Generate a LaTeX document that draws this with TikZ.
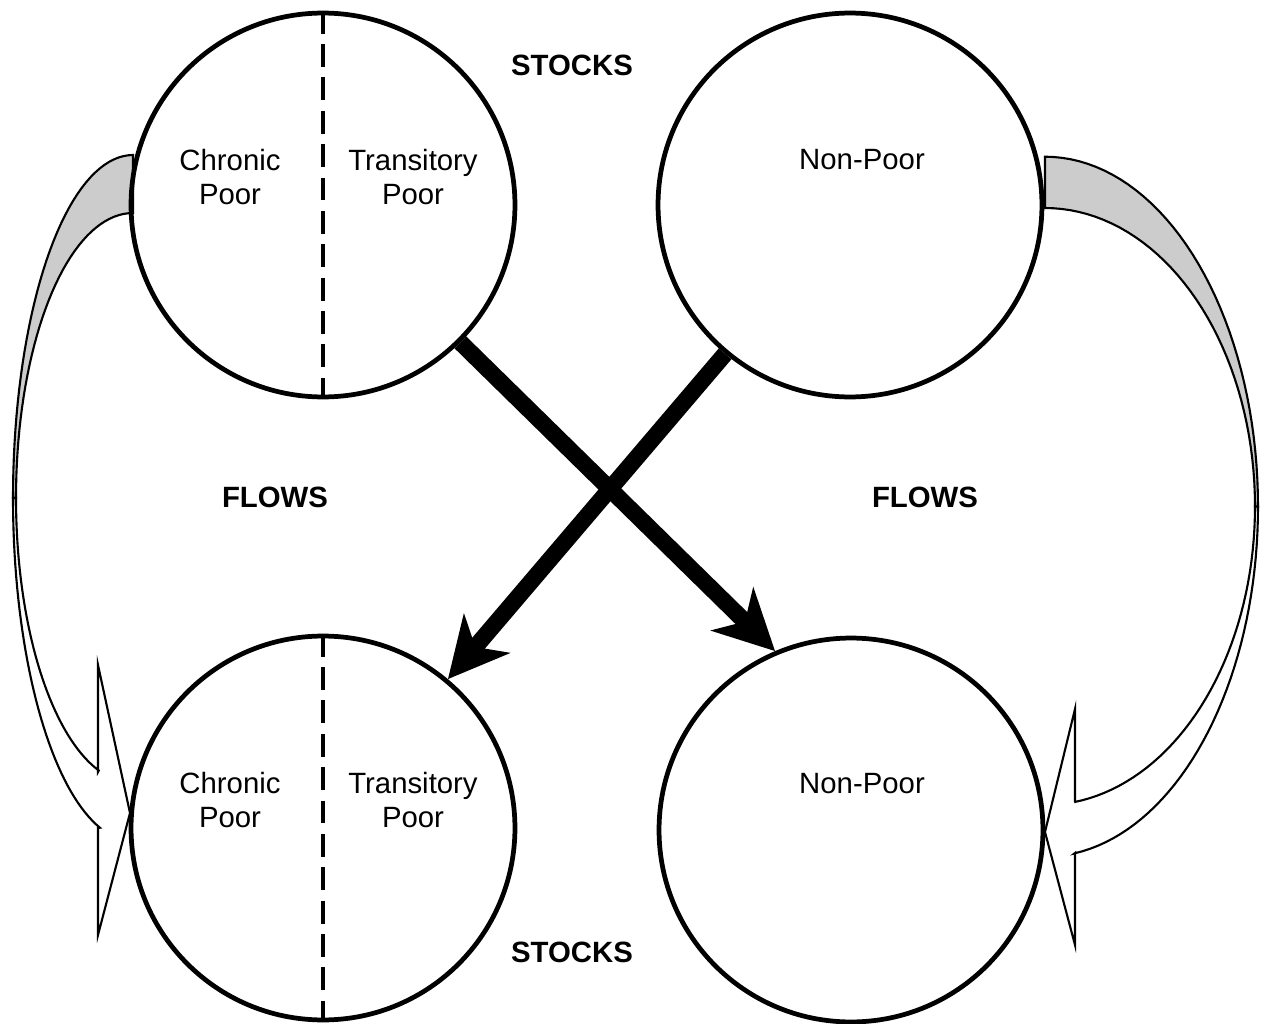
\documentclass[tikz,border=0pt]{standalone}
\usepackage{fontspec}
\setmainfont{Liberation Sans}
\usetikzlibrary{arrows.meta}

\begin{document}
\begin{tikzpicture}[x=0.02cm,y=-0.02cm,main/.style={draw,circle,line width=2.7pt,minimum size=7.68cm,inner sep=0pt},txt/.style={align=center,font=\fontsize{16.7}{19.5}\selectfont},hdr/.style={font=\fontsize{16.7}{19.5}\selectfont\bfseries},band/.style={line width=1.2pt,line join=miter}]
\useasboundingbox (0,0) rectangle (1265,1024);
% curved flows, left side
\draw[band,fill=black!20] plot[domain=90:180,samples=40,variable=\t] ({133+120*cos(\t)},{498-343*sin(\t)}) -- plot[domain=180:90,samples=40,variable=\t] ({133+117*cos(\t)},{498-285*sin(\t)}) -- cycle;
\draw[band,fill=white] plot[domain=180:254,samples=40,variable=\t] ({133+120*cos(\t)},{498-343*sin(\t)}) -- (98,828) -- (98,935) -- (130,813) -- (98,665) -- (98,772) -- plot[domain=253:180,samples=40,variable=\t] ({133+117*cos(\t)},{498-285*sin(\t)}) -- cycle;
% curved flows, right side
\draw[band,fill=black!20] plot[domain=90:0,samples=40,variable=\t] ({1045+213*cos(\t)},{506.7-350*sin(\t)}) -- plot[domain=0:90,samples=40,variable=\t] ({1045+210*cos(\t)},{506.5-298.5*sin(\t)}) -- cycle;
\draw[band,fill=white] plot[domain=0:-82,samples=40,variable=\t] ({1045+213*cos(\t)},{506.7-350*sin(\t)}) -- (1075,853) -- (1075,945) -- (1045,832) -- (1075,709) -- (1075,802) -- plot[domain=-82:0,samples=40,variable=\t] ({1045+210*cos(\t)},{506.5-298.5*sin(\t)}) -- cycle;
% stocks
\node[main] (tl) at (323,205) {};
\node[main] (tr) at (850,205) {};
\node[main] (bl) at (323,828) {};
\node[main] (br) at (851,830) {};
\draw[line width=2.8pt,dash pattern=on 13pt off 6pt] (tl.north) -- (tl.south);
\draw[line width=2.8pt,dash pattern=on 13pt off 6pt] (bl.north) -- (bl.south);
\node[txt] (tlc) at (230,177) {Chronic\\Poor};
\node[txt] (tlt) at (413,177) {Transitory\\Poor};
\node[txt] (trn) at (862,160) {Non-Poor};
\node[txt] (blc) at (230,800) {Chronic\\Poor};
\node[txt] (blt) at (413,800) {Transitory\\Poor};
\node[txt] (brn) at (862,784) {Non-Poor};
\node[hdr] (st1) at (572,65) {STOCKS};
\node[hdr] (st2) at (572,952) {STOCKS};
\node[hdr] (fl1) at (275,497) {FLOWS};
\node[hdr] (fl2) at (925,497) {FLOWS};
% crossing flows
\draw[line width=9.5pt,-{Stealth[length=34pt,width=34pt,inset=10pt]}] (tl.-45) -- (br.113);
\draw[line width=9.5pt,-{Stealth[length=34pt,width=34pt,inset=10pt]}] (tr.230) -- (bl.50);
\end{tikzpicture}
\end{document}
